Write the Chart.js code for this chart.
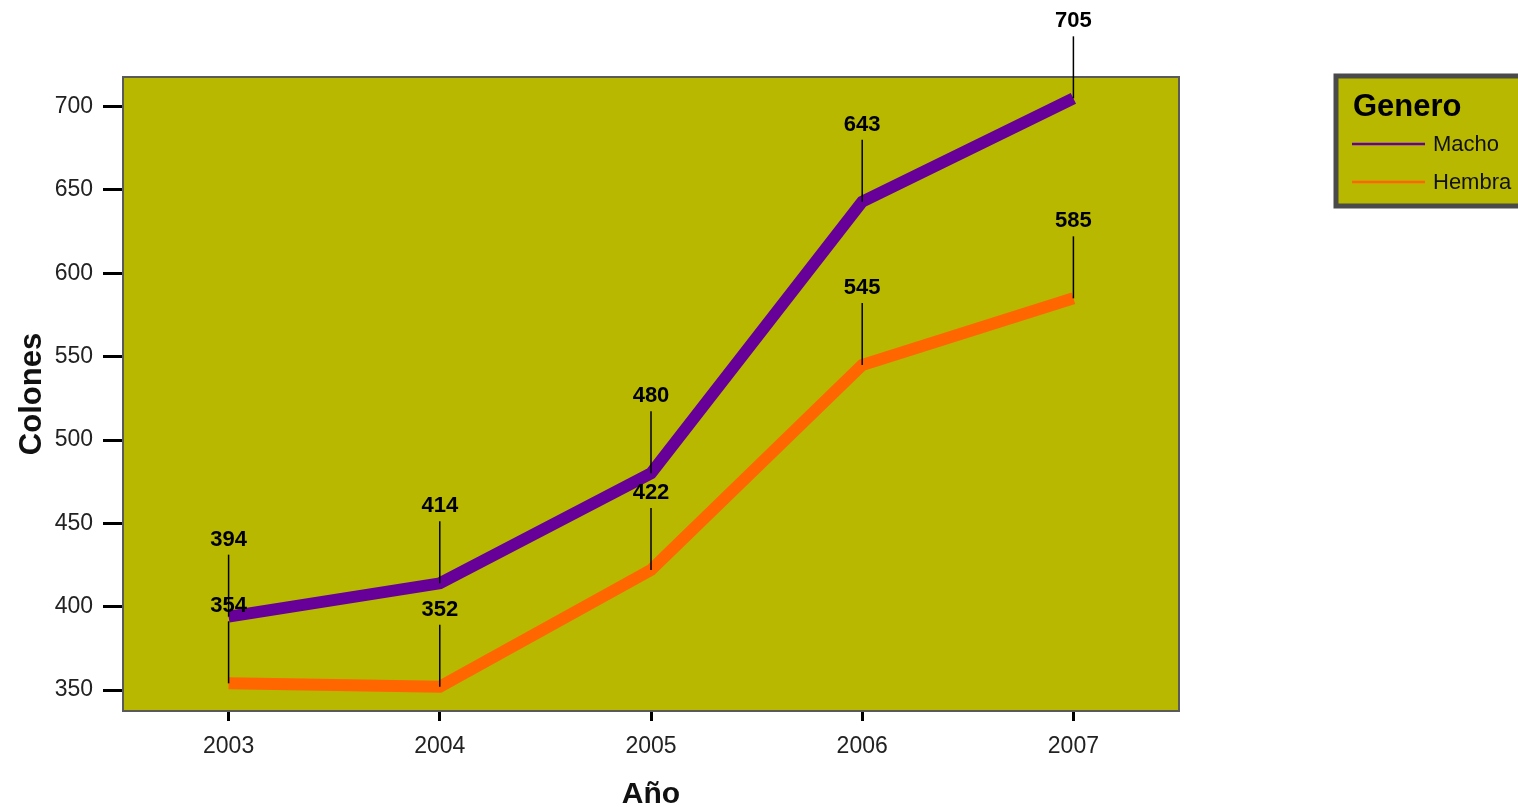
<!DOCTYPE html>
<html lang="es">
<head>
<meta charset="utf-8">
<title>Colones por año y género</title>
<script src="https://cdn.jsdelivr.net/npm/chart.js@4.4.1/dist/chart.umd.min.js"></script>
<style>
  html, body { margin: 0; padding: 0; background: #fff; }
  #grafico { display: block; }
</style>
</head>
<body>
<canvas id="grafico" width="1518" height="807"></canvas>
<script>
// Datos
const anios = ["2003", "2004", "2005", "2006", "2007"];
const valoresMacho = [394, 414, 480, 643, 705];
const valoresHembra = [354, 352, 422, 545, 585];
const ticksColones = [350, 400, 450, 500, 550, 600, 650, 700];

const colorFondo = "#b8b800";
const colorMacho = "#660099";
const colorHembra = "#ff6600";
const fuente = "'Liberation Sans', Arial, sans-serif";

// Fondo y marco del área de trazado
const pluginFondo = {
    id: "fondo",
    beforeDatasetsDraw(chart) {
        const { ctx, chartArea: a } = chart;
        ctx.save();
        ctx.fillStyle = colorFondo;
        ctx.fillRect(a.left, a.top, a.right - a.left, a.bottom - a.top);
        ctx.restore();
    },
    afterDatasetsDraw(chart) {
        const { ctx, chartArea: a } = chart;
        ctx.save();
        ctx.strokeStyle = "#5a5a5a";
        ctx.lineWidth = 2;
        ctx.strokeRect(a.left, a.top, a.right - a.left, a.bottom - a.top);
        ctx.restore();
    }
};

// Etiquetas de valor con línea guía vertical
const pluginEtiquetas = {
    id: "etiquetas",
    afterDatasetsDraw(chart) {
        const ctx = chart.ctx;
        ctx.save();
        chart.data.datasets.forEach((ds, i) => {
            chart.getDatasetMeta(i).data.forEach((p, j) => {
                ctx.strokeStyle = "#000";
                ctx.lineWidth = 1.5;
                ctx.beginPath();
                ctx.moveTo(p.x, p.y - 62);
                ctx.lineTo(p.x, p.y);
                ctx.stroke();
                ctx.fillStyle = "#000";
                ctx.font = "bold 22px " + fuente;
                ctx.textAlign = "center";
                ctx.textBaseline = "middle";
                ctx.fillText(String(ds.data[j]), p.x, p.y - 77);
            });
        });
        ctx.restore();
    }
};

// Leyenda con título, dibujada a mano
const pluginLeyenda = {
    id: "leyendaGenero",
    afterDraw(chart) {
        const ctx = chart.ctx;
        const x = 1336, y = 76, w = 200, h = 130;
        ctx.save();
        ctx.fillStyle = colorFondo;
        ctx.fillRect(x, y, w, h);
        ctx.strokeStyle = "#4a4a4a";
        ctx.lineWidth = 5;
        ctx.strokeRect(x, y, w, h);
        ctx.fillStyle = "#000";
        ctx.textBaseline = "middle";
        ctx.textAlign = "left";
        ctx.font = "bold 31px " + fuente;
        ctx.fillText("Genero", 1353, 107);
        chart.data.datasets.forEach((ds, i) => {
            const yy = 144 + i * 38;
            ctx.strokeStyle = ds.borderColor;
            ctx.lineWidth = 2.5;
            ctx.beginPath();
            ctx.moveTo(1352, yy);
            ctx.lineTo(1425, yy);
            ctx.stroke();
            ctx.fillStyle = "#111";
            ctx.font = "22px " + fuente;
            ctx.fillText(ds.label, 1433, yy + 1);
        });
        ctx.restore();
    }
};

new Chart(document.getElementById("grafico"), {
    type: "line",
    data: {
        labels: anios,
        datasets: [
            {
                label: "Macho",
                data: valoresMacho,
                borderColor: colorMacho,
                backgroundColor: colorMacho,
                borderWidth: 12,
                pointRadius: 0,
                tension: 0
            },
            {
                label: "Hembra",
                data: valoresHembra,
                borderColor: colorHembra,
                backgroundColor: colorHembra,
                borderWidth: 12,
                pointRadius: 0,
                tension: 0
            }
        ]
    },
    options: {
        responsive: false,
        animation: false,
        layout: { padding: { top: 77, right: 339, left: 0, bottom: 0 } },
        plugins: {
            legend: { display: false },
            tooltip: { enabled: false }
        },
        scales: {
            x: {
                offset: true,
                grid: {
                    offset: false,
                    drawOnChartArea: false,
                    tickLength: 10,
                    tickWidth: 3,
                    tickColor: "#000"
                },
                border: { display: false },
                ticks: {
                    color: "#222",
                    padding: 12,
                    font: { family: fuente, size: 23 }
                },
                title: {
                    display: true,
                    text: "Año",
                    color: "#111",
                    padding: { top: 0, bottom: 0 },
                    font: { family: fuente, size: 30, weight: "bold", lineHeight: 0.8 }
                },
                afterFit(scale) { scale.height = 96; }
            },
            y: {
                min: 337.4,
                max: 717.8,
                afterBuildTicks(scale) {
                    scale.ticks = ticksColones.map(v => ({ value: v }));
                },
                grid: {
                    drawOnChartArea: false,
                    tickLength: 20,
                    tickWidth: 3,
                    tickColor: "#000"
                },
                border: { display: false },
                ticks: {
                    color: "#222",
                    padding: 10,
                    font: { family: fuente, size: 23 }
                },
                title: {
                    display: true,
                    text: "Colones",
                    color: "#111",
                    padding: { top: 17, bottom: 0 },
                    font: { family: fuente, size: 31, weight: "bold", lineHeight: 1.0 }
                },
                afterFit(scale) { scale.width = 123; }
            }
        }
    },
    plugins: [pluginFondo, pluginEtiquetas, pluginLeyenda]
});
</script>
</body>
</html>
